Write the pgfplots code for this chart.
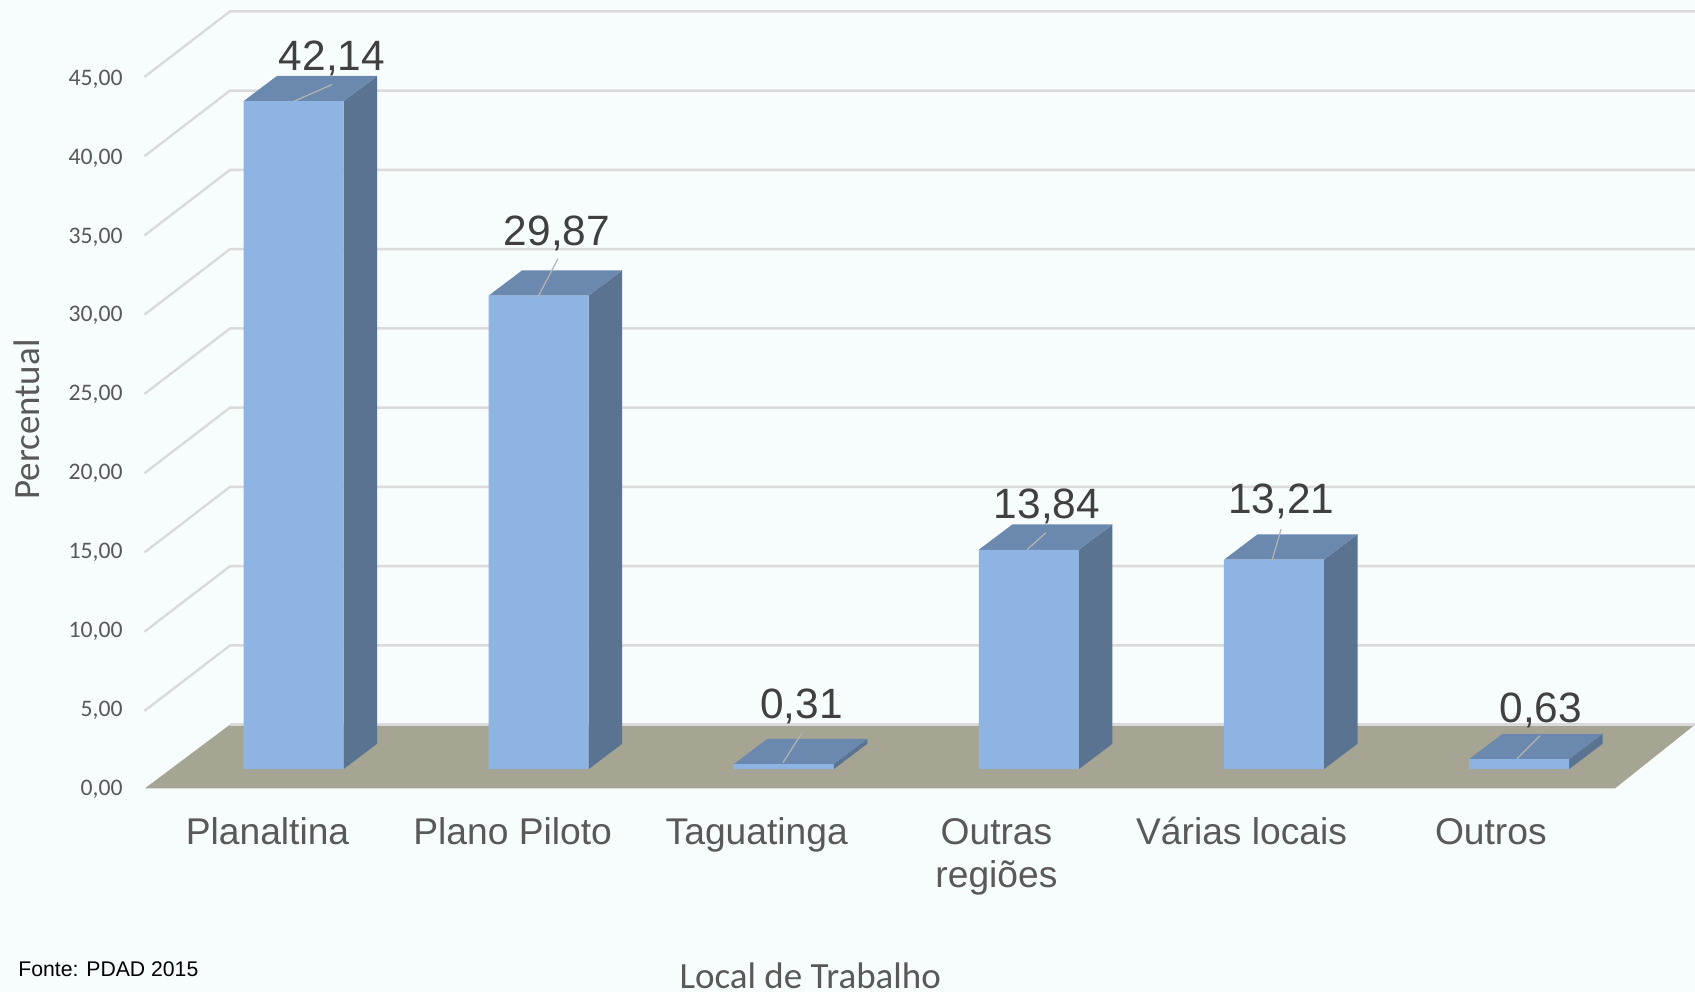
\documentclass[border=0pt]{standalone}
\usepackage{fontspec}
\usepackage{pgfplots}
\pgfplotsset{compat=1.18}
\setmainfont{Liberation Sans}
\newfontfamily\carlito{Carlito}
\definecolor{bg}{HTML}{F7FCFD}
\definecolor{gridc}{HTML}{DADADA}
\definecolor{front}{HTML}{8DB4E2}
\definecolor{topf}{HTML}{6B88AE}
\definecolor{sidef}{HTML}{5A7391}
\definecolor{floorc}{HTML}{A6A593}
\definecolor{leader}{HTML}{B5B5B0}
\newcommand{\tl}[1]{\rule{0pt}{14pt}#1}
\begin{document}
\begin{tikzpicture}
\begin{axis}[
  scale only axis, width=847.5pt, height=496pt,
  xmin=-1.1975, xmax=5.718, ymin=-14.062, ymax=48.525,
  axis background/.style={fill=bg},
  axis line style={draw=none},
  major tick length=0pt,
  tick style={draw=none},
  xtick={0,1,1.996,2.974,3.974,4.991},
  xticklabels={\tl{Planaltina},\tl{Plano Piloto},\tl{T{}aguatinga},{\tl{Outras}\\regiões},\tl{Várias locais},\tl{Outros}},
  xticklabel style={font=\fontsize{18.6}{21.6}\selectfont, text=black!65, align=center, anchor=north, inner sep=0pt, xshift=-13pt, yshift=88.1pt},
  ytick={-1.28,3.70,8.68,13.66,18.64,23.62,28.60,33.58,38.56,43.54},
  yticklabels={{0,00},{5,00},{10,00},{15,00},{20,00},{25,00},{30,00},{35,00},{40,00},{45,00}},
  yticklabel style={font=\carlito\fontsize{11.85}{14}\selectfont, text=black!65, anchor=east, inner sep=0pt, xshift=61.5pt},
  xlabel={Local de Trabalho},
  xlabel style={at={(axis description cs:0.478,0.004)}, anchor=base, inner sep=0pt, font=\carlito\fontsize{18.5}{22}\selectfont, text=black!65},
  ylabel={Percentual},
  ylabel style={at={(axis description cs:0.0159,0.577)}, anchor=center, inner sep=0pt, font=\carlito\fontsize{18.5}{22}\selectfont, text=black!65},
]
% floor
\addplot[fill=floorc, draw=none] coordinates {(-0.606,-1.211) (-0.259,2.808) (5.718,2.808) (5.392,-1.211)} -- cycle;
% back wall grid lines
\addplot[gridc, line width=1.2pt] coordinates {(-0.259,2.808) (5.718,2.808)};
\addplot[gridc, line width=1.2pt] coordinates {(-0.608,3.672) (-0.259,7.808) (5.718,7.808)};
\addplot[gridc, line width=1.2pt] coordinates {(-0.608,8.672) (-0.259,12.808) (5.718,12.808)};
\addplot[gridc, line width=1.2pt] coordinates {(-0.608,13.672) (-0.259,17.808) (5.718,17.808)};
\addplot[gridc, line width=1.2pt] coordinates {(-0.608,18.672) (-0.259,22.808) (5.718,22.808)};
\addplot[gridc, line width=1.2pt] coordinates {(-0.608,23.672) (-0.259,27.808) (5.718,27.808)};
\addplot[gridc, line width=1.2pt] coordinates {(-0.608,28.672) (-0.259,32.808) (5.718,32.808)};
\addplot[gridc, line width=1.2pt] coordinates {(-0.608,33.672) (-0.259,37.808) (5.718,37.808)};
\addplot[gridc, line width=1.2pt] coordinates {(-0.608,38.672) (-0.259,42.808) (5.718,42.808)};
\addplot[gridc, line width=1.2pt] coordinates {(-0.608,43.672) (-0.259,47.808) (5.718,47.808)};
% side faces
\addplot[fill=sidef, draw=none] coordinates {(0.204,0) (0.341,1.6) (0.341,43.74) (0.204,42.14)} -- cycle;
\addplot[fill=sidef, draw=none] coordinates {(1.204,0) (1.341,1.6) (1.341,31.47) (1.204,29.87)} -- cycle;
\addplot[fill=sidef, draw=none] coordinates {(2.204,0) (2.341,1.6) (2.341,1.91) (2.204,0.31)} -- cycle;
\addplot[fill=sidef, draw=none] coordinates {(3.204,0) (3.341,1.6) (3.341,15.44) (3.204,13.84)} -- cycle;
\addplot[fill=sidef, draw=none] coordinates {(4.204,0) (4.341,1.6) (4.341,14.81) (4.204,13.21)} -- cycle;
\addplot[fill=sidef, draw=none] coordinates {(5.204,0) (5.341,1.6) (5.341,2.23) (5.204,0.63)} -- cycle;
% top faces
\addplot[fill=topf, draw=none] coordinates {(-0.204,42.14) (0.204,42.14) (0.341,43.74) (-0.067,43.74)} -- cycle;
\addplot[fill=topf, draw=none] coordinates {(0.796,29.87) (1.204,29.87) (1.341,31.47) (0.933,31.47)} -- cycle;
\addplot[fill=topf, draw=none] coordinates {(1.796,0.31) (2.204,0.31) (2.341,1.91) (1.933,1.91)} -- cycle;
\addplot[fill=topf, draw=none] coordinates {(2.796,13.84) (3.204,13.84) (3.341,15.44) (2.933,15.44)} -- cycle;
\addplot[fill=topf, draw=none] coordinates {(3.796,13.21) (4.204,13.21) (4.341,14.81) (3.933,14.81)} -- cycle;
\addplot[fill=topf, draw=none] coordinates {(4.796,0.63) (5.204,0.63) (5.341,2.23) (4.933,2.23)} -- cycle;
% front faces
\addplot[ybar, bar width=50pt, bar shift=0pt, fill=front, draw=none] coordinates {(0,42.14) (1,29.87) (2,0.31) (3,13.84) (4,13.21) (5,0.63)};
% leader lines
\addplot[leader, line width=0.6pt] coordinates {(-0.002,42.11) (0.157,43.19)};
\addplot[leader, line width=0.6pt] coordinates {(0.998,29.81) (1.079,32.21)};
\addplot[leader, line width=0.6pt] coordinates {(1.997,0.41) (2.075,2.30)};
\addplot[leader, line width=0.6pt] coordinates {(2.993,13.85) (3.070,14.92)};
\addplot[leader, line width=0.6pt] coordinates {(3.992,13.15) (4.029,15.14)};
\addplot[leader, line width=0.6pt] coordinates {(4.992,0.66) (5.086,2.11)};
% value labels
\tikzset{vl/.style={anchor=base, inner sep=0pt, font=\fontsize{21.2}{24}\selectfont, text=black!75}}
\node[vl] at (axis cs:0.157,44.06) {42,14};
\node[vl] at (axis cs:1.075,33.05) {29,87};
\node[vl] at (axis cs:2.072,3.19) {0,31};
\node[vl] at (axis cs:3.074,15.79) {13,84};
\node[vl] at (axis cs:4.030,16.14) {13,21};
\node[vl] at (axis cs:5.089,2.96) {0,63};
\node[anchor=base west, inner sep=0pt, font=\fontsize{10.6}{12}\selectfont] at (axis cs:-1.124,-13.09) {Fonte: PDAD 2015};
\end{axis}
\end{tikzpicture}
\end{document}
